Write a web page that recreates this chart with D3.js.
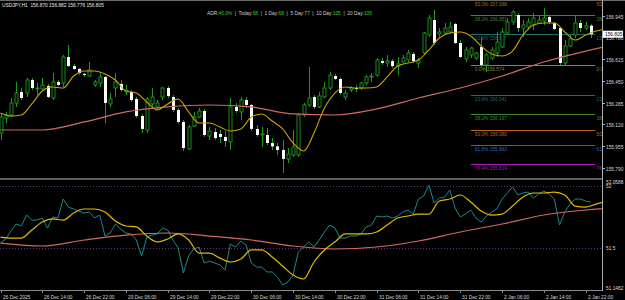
<!DOCTYPE html>
<html>
<head>
<meta charset="utf-8">
<script src="https://cdn.jsdelivr.net/npm/d3@7"></script>
<style>
  body { margin: 0; background: #000; }
  svg { display: block; }
  text { font-family: "Liberation Sans", Arial, sans-serif; }
</style>
</head>
<body>
<script>
// USDJPY H1 candles, 26 Dec 06:00 .. 2 Jan 23:00
const opens = [156.054,156.168,156.191,156.282,156.366,156.358,156.457,156.392,156.389,156.411,
  156.320,156.442,156.434,156.632,156.563,156.541,156.503,156.487,156.419,156.434,
  156.480,156.275,156.396,156.427,156.366,156.366,156.313,156.183,156.077,156.275,
  156.252,156.328,156.396,156.328,156.229,156.138,155.933,156.107,156.176,156.221,
  156.031,156.062,156.047,156.024,155.986,156.252,156.214,156.305,156.267,156.085,
  156.039,156.039,155.978,155.952,155.925,155.857,155.887,155.887,156.191,156.267,
  156.328,156.252,156.328,156.396,156.487,156.465,156.328,156.381,156.396,156.396,
  156.434,156.480,156.495,156.601,156.586,156.601,156.563,156.594,156.609,156.655,
  156.586,156.662,156.799,156.913,156.807,156.814,156.822,156.883,156.738,156.617,
  156.647,156.624,156.708,156.571,156.624,156.662,156.708,156.814,156.898,156.951,
  156.852,156.860,156.875,156.890,156.905,156.936,156.890,156.852,156.586,156.716,
  156.799,156.890,156.852,156.870];
const highs = [156.206,156.214,156.320,156.442,156.396,156.472,156.472,156.434,156.472,156.427,
  156.510,156.457,156.647,156.723,156.579,156.548,156.510,156.594,156.457,156.518,
  156.487,156.358,156.510,156.457,156.419,156.381,156.328,156.199,156.328,156.396,
  156.305,156.404,156.411,156.343,156.244,156.153,156.115,156.214,156.244,156.237,
  156.100,156.092,156.077,156.069,156.320,156.282,156.328,156.328,156.275,156.115,
  156.100,156.092,156.016,155.978,156.001,155.940,156.077,156.206,156.282,156.556,
  156.343,156.366,156.442,156.518,156.503,156.472,156.381,156.411,156.419,156.442,
  156.495,156.510,156.624,156.624,156.647,156.617,156.632,156.647,156.685,156.670,
  156.624,156.822,156.951,156.989,156.852,156.890,156.898,156.890,156.761,156.708,
  156.708,156.670,156.784,156.662,156.708,156.822,156.852,156.928,156.989,156.966,
  156.913,156.928,156.966,156.951,157.004,156.951,156.898,156.860,156.761,156.799,
  156.951,156.913,156.898,156.882];
const lows = [156.001,156.130,156.176,156.252,156.305,156.328,156.381,156.343,156.381,156.320,
  156.305,156.411,156.404,156.556,156.533,156.495,156.480,156.480,156.404,156.404,
  156.130,156.252,156.328,156.366,156.343,156.290,156.168,156.054,156.054,156.244,
  156.229,156.305,156.320,156.214,156.123,155.917,155.925,156.100,156.168,156.024,
  156.001,156.001,155.978,155.948,155.925,156.206,156.153,156.244,156.069,156.024,
  155.948,155.963,155.925,155.887,155.750,155.826,155.872,155.872,156.176,156.252,
  156.237,156.244,156.320,156.381,156.457,156.343,156.305,156.366,156.366,156.381,
  156.419,156.442,156.480,156.571,156.556,156.548,156.495,156.586,156.594,156.586,
  156.548,156.647,156.784,156.723,156.784,156.799,156.807,156.731,156.624,156.594,
  156.624,156.610,156.556,156.518,156.609,156.632,156.700,156.799,156.875,156.822,
  156.784,156.837,156.837,156.883,156.875,156.883,156.837,156.571,156.571,156.708,
  156.776,156.822,156.837,156.776];
const closes = [156.176,156.191,156.282,156.358,156.320,156.457,156.396,156.396,156.419,156.328,
  156.442,156.419,156.632,156.563,156.541,156.510,156.495,156.533,156.442,156.480,
  156.282,156.313,156.442,156.381,156.381,156.305,156.183,156.085,156.313,156.328,
  156.282,156.396,156.335,156.229,156.138,155.940,156.100,156.176,156.221,156.039,
  156.069,156.016,156.024,155.993,156.252,156.221,156.305,156.267,156.085,156.039,
  156.047,155.978,155.952,155.925,155.857,155.895,155.948,156.191,156.267,156.320,
  156.252,156.336,156.396,156.495,156.465,156.358,156.358,156.396,156.389,156.434,
  156.480,156.487,156.609,156.586,156.601,156.563,156.579,156.624,156.662,156.601,
  156.609,156.814,156.928,156.738,156.822,156.852,156.860,156.738,156.632,156.685,
  156.700,156.662,156.571,156.647,156.685,156.746,156.822,156.898,156.974,156.852,
  156.875,156.898,156.928,156.913,156.928,156.898,156.845,156.586,156.716,156.769,
  156.890,156.852,156.870,156.805];

// moving averages on the price window (read every 2 bars / every 8 bars)
const maFast = [156.206,156.183,156.191,156.275,156.373,156.404,156.396,156.487,156.525,156.525,
  156.503,156.457,156.373,156.358,156.290,156.229,156.275,156.313,156.214,156.130,
  156.130,156.100,156.069,156.085,156.176,156.199,156.145,156.085,155.978,155.917,
  156.054,156.244,156.358,156.404,156.396,156.396,156.404,156.480,156.563,156.586,
  156.609,156.685,156.776,156.814,156.822,156.791,156.715,156.655,156.639,156.677,
  156.799,156.875,156.890,156.890,156.822,156.761,156.799,156.829,156.845];
const maSlow = [156.077,156.077,156.138,156.214,156.252,156.267,156.252,156.199,156.191,156.237,
  156.320,156.396,156.487,156.594,156.677,156.746];

// oscillator sub-window
const oscRaw = [51.536,51.569,51.634,51.691,51.675,51.764,51.723,51.723,51.740,51.658,
  51.748,51.740,51.894,51.829,51.813,51.797,51.780,51.788,51.740,51.764,
  51.593,51.618,51.691,51.650,51.618,51.610,51.561,51.431,51.585,51.601,
  51.610,51.658,51.642,51.561,51.496,51.293,51.431,51.488,51.504,51.374,
  51.390,51.374,51.358,51.317,51.528,51.504,51.553,51.520,51.374,51.341,
  51.341,51.301,51.301,51.260,51.195,51.219,51.276,51.463,51.504,51.545,
  51.504,51.561,51.626,51.683,51.658,51.577,51.577,51.593,51.593,51.610,
  51.667,51.683,51.756,51.748,51.756,51.740,51.756,51.788,51.805,51.772,
  51.894,51.919,52.008,51.862,51.902,51.910,51.967,51.821,51.748,51.772,
  51.805,51.740,51.707,51.756,51.788,51.813,51.894,51.943,51.992,51.927,
  51.943,51.951,51.902,51.935,51.959,51.935,51.894,51.683,51.788,51.853,
  51.894,51.894,51.878,51.870];
const oscSignal = [51.585,51.577,51.577,51.642,51.707,51.732,51.723,51.780,51.813,51.813,
  51.788,51.715,51.675,51.667,51.593,51.545,51.569,51.610,51.561,51.455,
  51.455,51.414,51.382,51.406,51.480,51.480,51.423,51.349,51.276,51.244,
  51.382,51.480,51.545,51.610,51.610,51.610,51.626,51.683,51.740,51.756,
  51.772,51.772,51.878,51.894,51.927,51.870,51.797,51.764,51.772,51.837,
  51.910,51.943,51.943,51.951,51.927,51.837,51.829,51.853,51.878];
const oscSlow = [51.536,51.512,51.561,51.601,51.618,51.593,51.561,51.512,51.488,51.504,
  51.553,51.626,51.691,51.764,51.805,51.829];
const oscLevels = [52, 51.5];

// axis labels
const priceTicks = [156.945, 156.780, 156.615, 156.450, 156.285, 156.120, 155.955, 155.790];
const subTicks = ["52.0588", "52", "51.5", "51.1482"];
const timeLabels = ["26 Dec 2025","26 Dec 14:00","26 Dec 22:00","29 Dec 06:00","29 Dec 14:00",
  "29 Dec 22:00","30 Dec 06:00","30 Dec 14:00","30 Dec 22:00","31 Dec 06:00","31 Dec 14:00",
  "31 Dec 22:00","2 Jan 06:00","2 Jan 14:00","2 Jan 22:00"];

// fibonacci levels
const fibUpPct = ["0.0", "23.6", "38.2", "50.0"];
const fibUpPrice = [156.574, 156.807, 156.951, 157.068];
const fibDownPct = ["23.6", "38.2", "50.0", "61.8", "76.4"];
const fibDownPrice = [156.341, 156.197, 156.080, 155.963, 155.819];

const adrParts = [["ADR:", "46.0%"], ["  |  Today:", "68"], ["  |  1 Day:", "68"],
  ["  |  5 Day:", "77"], ["  |  10 Day:", "105"], ["  |  20 Day:", "105"]];

const W = 625, H = 300, AXIS_X = 602;
const fibColor = {"0.0": "#8c8a1e", "23.6": "#1f6a6a", "38.2": "#3f8a2e", "50.0": "#b8681c",
  "61.8": "#2e6cb0", "76.4": "#a022a6"};

const svg = d3.select("body").append("svg").attr("width", W).attr("height", H)
  .style("background", "#000");

const bar = d3.scaleLinear().domain([0, 113]).range([0.5, 590.9]);
const yMain = d3.scaleLinear().domain([155.712, 157.065]).range([178, 0]);
const ySub = d3.scaleLinear().domain([51.5, 52]).range([247.5, 186]);

const defs = svg.append("defs");
defs.append("clipPath").attr("id", "clipMain").append("rect")
  .attr("x", 0).attr("y", 1).attr("width", AXIS_X).attr("height", 177);
defs.append("clipPath").attr("id", "clipSub").append("rect")
  .attr("x", 0).attr("y", 180).attr("width", AXIS_X).attr("height", 110);

const main = svg.append("g").attr("clip-path", "url(#clipMain)");
const sub = svg.append("g").attr("clip-path", "url(#clipSub)");

// fib lines (behind candles)
function drawFib(pcts, prices) {
  pcts.forEach((pct, i) => {
    const y = Math.round(yMain(prices[i])) + 0.5;
    const c = fibColor[pct];
    main.append("line").attr("x1", bar(90)).attr("x2", bar(113.8))
      .attr("y1", y).attr("y2", y).attr("stroke", c).attr("stroke-width", 1);
    main.append("text").attr("x", bar(90) + 4).attr("y", Math.max(y + 5, 6))
      .attr("fill", c).attr("font-size", 4.8).text(pct + "%   " + prices[i].toFixed(3));
    svg.append("text").attr("x", bar(113.8) + 1.5).attr("y", Math.max(y + 5, 6))
      .attr("fill", c).attr("font-size", 4.8).text(pct === "0.0" ? "0.0" : pct.slice(0, 2));
  });
}
drawFib(fibUpPct, fibUpPrice);
drawFib(fibDownPct, fibDownPrice);

// candles
const candles = d3.range(opens.length).map(i => ({i, o: opens[i], h: highs[i], l: lows[i], c: closes[i]}));
const WICK = "#1f9a1f";
main.selectAll("line.wick").data(candles).enter().append("line")
  .attr("x1", d => Math.round(bar(d.i)) + 0.5).attr("x2", d => Math.round(bar(d.i)) + 0.5)
  .attr("y1", d => yMain(d.h)).attr("y2", d => yMain(d.l))
  .attr("stroke", WICK).attr("stroke-width", 1);
main.selectAll("rect.body").data(candles).enter().append("rect")
  .attr("x", d => Math.round(bar(d.i)) - 1)
  .attr("y", d => yMain(Math.max(d.o, d.c)))
  .attr("width", 3)
  .attr("height", d => Math.max(1, Math.abs(yMain(d.o) - yMain(d.c))))
  .attr("fill", d => d.c >= d.o ? "#000" : "#fff")
  .attr("stroke", d => d.c >= d.o ? WICK : "none")
  .attr("stroke-width", 0.9);

// MAs
const lineMain = d3.line().curve(d3.curveMonotoneX);
main.append("path")
  .attr("d", lineMain(maSlow.map((v, i) => [bar(i * 8), yMain(v)])))
  .attr("fill", "none").attr("stroke", "#cc6a64").attr("stroke-width", 1.2);
main.append("path")
  .attr("d", lineMain(maFast.map((v, i) => [bar(i * 2), yMain(v)])))
  .attr("fill", "none").attr("stroke", "#c9a400").attr("stroke-width", 1.1);

// sub window
oscLevels.forEach(v => {
  sub.append("line").attr("x1", 0).attr("x2", AXIS_X)
    .attr("y1", Math.round(ySub(v)) + 0.5).attr("y2", Math.round(ySub(v)) + 0.5)
    .attr("stroke", "#5c3478").attr("stroke-dasharray", "1,2");
});
sub.append("path")
  .attr("d", d3.line()(oscRaw.map((v, i) => [bar(i), ySub(v)])))
  .attr("fill", "none").attr("stroke", "#1c8a8a").attr("stroke-width", 1);
sub.append("path")
  .attr("d", lineMain(oscSlow.map((v, i) => [bar(i * 8), ySub(v)])))
  .attr("fill", "none").attr("stroke", "#d06a60").attr("stroke-width", 1.2);
sub.append("path")
  .attr("d", lineMain(oscSignal.map((v, i) => [bar(i * 2), ySub(v)])))
  .attr("fill", "none").attr("stroke", "#dcbc00").attr("stroke-width", 1.2);

// frame
const frame = "#8a8a8a";
svg.append("line").attr("x1", 0).attr("x2", W).attr("y1", 0.5).attr("y2", 0.5).attr("stroke", "#6a6a6a");
svg.append("rect").attr("x", 0).attr("y", 178).attr("width", AXIS_X).attr("height", 2).attr("fill", "#5e5e5e");
svg.append("line").attr("x1", 0).attr("x2", AXIS_X).attr("y1", 290.5).attr("y2", 290.5).attr("stroke", frame);
svg.append("line").attr("x1", AXIS_X + 0.5).attr("x2", AXIS_X + 0.5).attr("y1", 0).attr("y2", 291).attr("stroke", "#b0b0b0");

// price axis
const axisText = "#d8d8d8";
priceTicks.forEach(p => {
  const y = Math.round(yMain(p)) + 0.5;
  svg.append("line").attr("x1", AXIS_X).attr("x2", AXIS_X + 3).attr("y1", y).attr("y2", y).attr("stroke", "#b0b0b0");
  svg.append("text").attr("x", AXIS_X + 4).attr("y", y + 2).attr("fill", axisText)
    .attr("font-size", 4.8).text(p.toFixed(3));
});
const last = closes[closes.length - 1];
svg.append("rect").attr("x", AXIS_X + 1).attr("y", yMain(last) - 3.5).attr("width", 20).attr("height", 7).attr("fill", "#fff");
svg.append("text").attr("x", AXIS_X + 3).attr("y", yMain(last) + 1.8).attr("fill", "#000")
  .attr("font-size", 4.8).text(last.toFixed(3));

subTicks.forEach(s => {
  const y = Math.min(Math.max(ySub(+s), 182), 288);
  svg.append("text").attr("x", AXIS_X + 4).attr("y", y + 2).attr("fill", axisText)
    .attr("font-size", 4.8).text(s);
});

// time axis
timeLabels.forEach((t, i) => {
  const x = Math.round(bar(i * 8)) + 0.5;
  svg.append("line").attr("x1", x).attr("x2", x).attr("y1", 290).attr("y2", 293).attr("stroke", frame);
  svg.append("text").attr("x", x + 1.5).attr("y", 298.5).attr("fill", axisText)
    .attr("font-size", 4.8).text(t);
});

// header texts
svg.append("text").attr("x", 2).attr("y", 6.5).attr("fill", "#e8e8e8").attr("font-size", 4.8)
  .attr("xml:space", "preserve")
  .text("USDJPY,H1  156.870 156.882 156.776 156.805");
const adr = svg.append("text").attr("x", 207).attr("y", 14.5).attr("font-size", 4.8)
  .attr("xml:space", "preserve").style("white-space", "pre");
adrParts.forEach(([lab, val]) => {
  adr.append("tspan").attr("fill", "#cfcfcf").text(lab);
  adr.append("tspan").attr("fill", val === "77" ? "#b8c81e" : "#2fd02f").text(val);
});
</script>
</body>
</html>
